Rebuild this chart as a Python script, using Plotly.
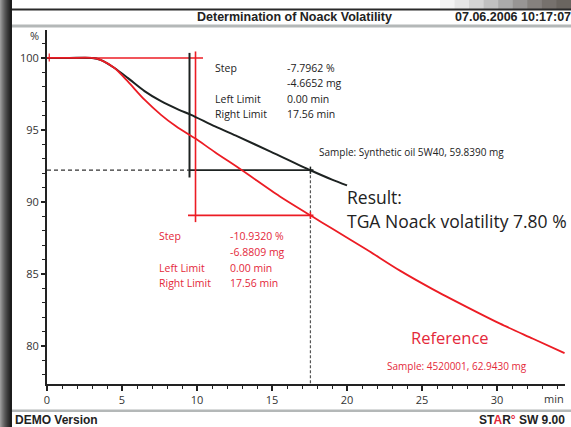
import plotly.graph_objects as go

# ---------------- data ----------------
time_sample = [0, 1.5, 3.0, 3.6, 4.5, 5.4, 6.5, 7.6, 8.8, 9.6, 11.2, 12.7, 14.9, 17.56, 19.0, 20.0]
mass_sample = [100, 100, 100, 99.85, 99.3, 98.6, 97.7, 97.0, 96.4, 96.05, 95.25, 94.55, 93.5, 92.2, 91.55, 91.15]

time_ref = [0, 1.5, 3.0, 3.6, 4.5, 5.4, 6.5, 7.6, 8.6, 9.5, 9.9, 11.2, 13.0, 15.5, 17.56, 19.0, 21.3, 23.5,
            25.7, 28.0, 30.2, 32.4, 34.5]
mass_ref = [100, 100, 100, 99.85, 99.3, 98.35, 97.1, 96.05, 95.25, 94.65, 94.4, 93.45, 92.2, 90.4, 89.07, 88.15,
            86.7, 85.25, 83.95, 82.7, 81.55, 80.5, 79.5]

x_ticks = [0, 5, 10, 15, 20, 25, 30]
y_ticks = [80, 85, 90, 95, 100]

left_limit = 0.00
right_limit = 17.56
sample_step_pct = -7.7962
sample_step_mg = -4.6652
ref_step_pct = -10.9320
ref_step_mg = -6.8809
sample_mass = 59.8390
ref_mass = 62.9430
noack_result = 7.80

sample_marker_x = 9.5
ref_marker_x = 9.9

# ---------------- layout helpers ----------------
W, H = 571, 427
L, R, T, B = 47, 6, 30, 43
XR = [0, 34.53]
YR = [77.36, 101.94]


def px(xp):
    return (xp - L) / (W - L - R)


def py(yp):
    return (H - B - yp) / (H - T - B)


RED = "#ec1c24"
RED_TXT = "#e4283a"
BLK = "#1d2221"
FONT = "Open Sans"

sample_level = 100 + sample_step_pct
ref_level = 100 + ref_step_pct

fig = go.Figure()


def seg(x, y, color, width=1.5, dash="solid"):
    fig.add_trace(go.Scatter(x=x, y=y, mode="lines", line=dict(color=color, width=width, dash=dash),
                             hoverinfo="skip", showlegend=False, cliponaxis=False))


# construction lines
seg([left_limit, sample_marker_x + 0.9], [100, 100], RED, 1.6)
seg([left_limit, sample_marker_x], [sample_level, sample_level], "#333333", 1.2, "4px,3px")
seg([right_limit, right_limit], [sample_level, YR[0]], "#555555", 1.2, "3px,2px")
seg([sample_marker_x, sample_marker_x], [100.35, 91.7], BLK, 2)
seg([sample_marker_x, right_limit + 0.2], [sample_level, sample_level], BLK, 1.8)
seg([right_limit, right_limit], [sample_level + 0.25, sample_level - 0.25], BLK, 1.5)
seg([ref_marker_x, ref_marker_x], [100.45, 88.6], RED, 1.6)
seg([sample_marker_x - 0.1, right_limit + 0.2], [ref_level, ref_level], RED, 1.6)
seg([right_limit, right_limit], [ref_level + 0.25, ref_level - 0.25], RED, 1.5)
seg([0.15, 0.15], [99.75, 100.3], RED, 1.2)

# curves
fig.add_trace(go.Scatter(x=time_sample, y=mass_sample, mode="lines",
                         line=dict(color=BLK, width=2, shape="spline", smoothing=0.8),
                         hoverinfo="skip", showlegend=False))
fig.add_trace(go.Scatter(x=time_ref, y=mass_ref, mode="lines",
                         line=dict(color=RED, width=1.8, shape="spline", smoothing=0.8),
                         hoverinfo="skip", showlegend=False))

ann = []


def txt(x, y, s, color="#222222", size=10.5, anchor="left", family=FONT):
    ann.append(dict(x=px(x), y=py(y), xref="paper", yref="paper", text=s, showarrow=False,
                    xanchor=anchor, yanchor="middle", font=dict(family=family, size=size, color=color)))


# black step block
txt(213, 68, "Step")
txt(285, 68, f"{sample_step_pct:.4f} %")
txt(285, 83, f"{sample_step_mg:.4f} mg")
txt(213, 99, "Left Limit")
txt(285, 99, f"{left_limit:.2f} min")
txt(213, 114, "Right Limit")
txt(285, 114, f"{right_limit:.2f} min")
txt(317, 152, f"Sample: Synthetic oil 5W40, {sample_mass:.4f} mg", size=10)
txt(345, 197, "Result:", size=17.5)
txt(345, 221, f"TGA Noack volatility {noack_result:.2f} %", size=17.5)

# red step block
txt(157, 236, "Step", RED_TXT)
txt(228, 236, f"{ref_step_pct:.4f} %", RED_TXT)
txt(228, 252, f"{ref_step_mg:.4f} mg", RED_TXT)
txt(157, 268, "Left Limit", RED_TXT)
txt(228, 268, f"{left_limit:.2f} min", RED_TXT)
txt(157, 283, "Right Limit", RED_TXT)
txt(228, 283, f"{right_limit:.2f} min", RED_TXT)
txt(409, 337, "Reference", RED_TXT, size=16.5)
txt(385, 366, f"Sample: 4520001, {ref_mass:.4f} mg", RED_TXT, size=10)

# axis units
txt(554, 398, "min", "#333333", 11, "center")
txt(34, 36, "%", "#333333", 11, "center")

# header / footer
txt(294, 17, "<b>Determination of Noack Volatility</b>", "#222222", 12.5, "center", "Liberation Sans")
txt(453, 17, "<b>07.06.2006 10:17:07</b>", "#222222", 12.5, "left", "Liberation Sans")
txt(13, 419.5, "<b>DEMO Version</b>", "#222222", 12, "left", "Liberation Sans")
txt(477, 419.5, "<b>ST<span style='color:#e4283a'>A</span>R<span style='color:#e4283a'>°</span> SW 9.00</b>",
    "#222222", 12, "left", "Liberation Sans")

shapes = []


def rect(x0, y0, x1, y1, color, layer="above"):
    shapes.append(dict(type="rect", xref="paper", yref="paper", x0=px(x0), x1=px(x1), y0=py(y0), y1=py(y1),
                       fillcolor=color, line=dict(width=0), layer=layer))


# top-right gradient
grad = ["#f4f4f4", "#e6e6e6", "#d4d4d4", "#c0c0c0", "#aaaaaa", "#979594", "#85817e", "#76716d", "#6a6560"]
n = len(grad)
for i, c in enumerate(grad):
    x0 = 440 + i * (W - 440) / n
    rect(x0, 0, x0 + (W - 440) / n + 1, 9, c)
# top dark line
rect(11, 8.5, W, 10.5, "#2a2a2a")
# separator lines
rect(12, 24.5, W, 27.5, "#b4b8b8")
rect(12, 409.5, W, 412, "#b4b8b8")
# left frame gradient
left = ["#9a9a9a", "#8a8a8a", "#7a7a7a", "#6c6c6c", "#5e5e5e", "#525252", "#474747", "#3c3c3c", "#333333",
        "#2a2a2a"]
for i, c in enumerate(left):
    rect(i, 0, i + 1.05, H, c)
rect(10, 0, 12, H, "#1c1c1c")

fig.update_layout(
    width=W, height=H, margin=dict(l=L, r=R, t=T, b=B),
    paper_bgcolor="white", plot_bgcolor="white",
    annotations=ann, shapes=shapes,
    xaxis=dict(range=XR, tickvals=x_ticks, showgrid=False, zeroline=False, showline=True,
               linecolor="#222222", linewidth=2, ticks="outside", ticklen=5, tickwidth=1.5, tickcolor="#222222",
               minor=dict(dtick=1, ticks="outside", ticklen=3, tickcolor="#222222", tickwidth=1.2),
               tickfont=dict(family=FONT, size=11, color="#333333")),
    yaxis=dict(range=YR, tickvals=y_ticks, showgrid=False, zeroline=False, showline=True,
               linecolor="#222222", linewidth=2, ticks="outside", ticklen=4, tickwidth=1.5, tickcolor="#222222",
               minor=dict(dtick=1, ticks="outside", ticklen=3, tickcolor="#222222", tickwidth=1.2),
               tickfont=dict(family=FONT, size=11, color="#333333")),
)

fig.write_html("out.html", config={"displayModeBar": False},
               post_script="document.body.style.margin='0';document.body.style.overflow='hidden';")
